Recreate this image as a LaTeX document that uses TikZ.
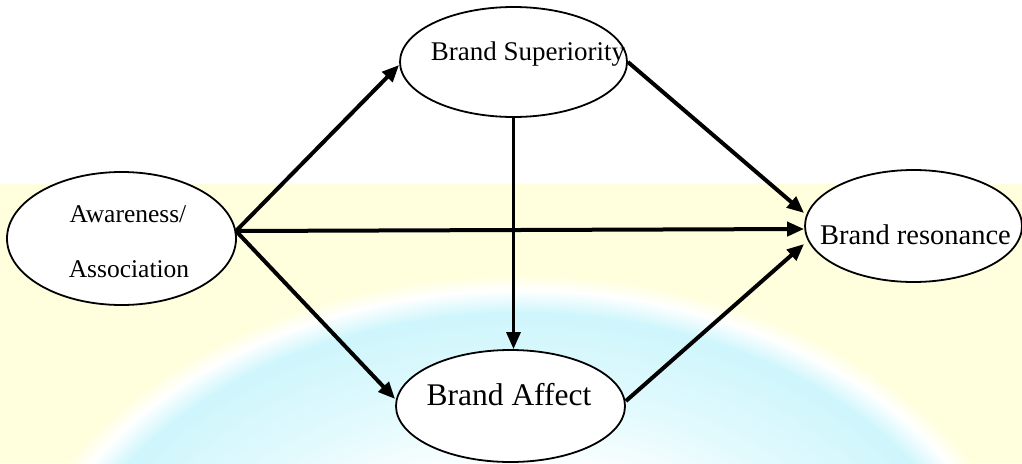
\documentclass[tikz,border=0pt]{standalone}
\usepackage{fontspec}
\setmainfont{Liberation Serif}
\usetikzlibrary{arrows.meta,shapes.geometric,calc}
\definecolor{bgyellow}{RGB}{255,255,222}
\definecolor{globecyan}{RGB}{206,246,252}
\definecolor{globelight}{RGB}{226,250,253}
\pgfdeclareradialshading{globeshade}{\pgfpoint{0bp}{0bp}}{%
  color(0bp)=(white); color(12bp)=(white); color(17bp)=(globelight);
  color(22.5bp)=(globecyan); color(24bp)=(white); color(25bp)=(bgyellow); color(50bp)=(bgyellow)}
\tikzset{
  oval/.style={draw=black, line width=1.8pt, fill=white, ellipse, inner sep=0pt},
  lbl/.style={anchor=base, inner sep=0pt},
  conn/.style={line width=4pt, -{Triangle[length=17pt,width=14pt]}},
}
\begin{document}
\begin{tikzpicture}[x=1pt,y=-1pt]
\useasboundingbox (0,0) rectangle (1022,463);
\begin{scope}
\clip (0,0) rectangle (1022,463);
\fill[white] (0,0) rectangle (1022,463);
\fill[bgyellow] (0,184) rectangle (1022,463);
\shade[shading=globeshade] (520,655) ellipse [x radius=525, y radius=380];
\end{scope}
% nodes
\node[oval, minimum width=229pt, minimum height=133pt] (aw) at (121.5,238.5) {};
\node[oval, minimum width=227pt, minimum height=110pt] (sup) at (513.5,62) {};
\node[oval, minimum width=229pt, minimum height=112pt] (aff) at (510.5,406) {};
\node[oval, minimum width=217pt, minimum height=112pt] (res) at (913.5,226) {};
% labels
\node[lbl, font=\fontsize{25.5}{28}\selectfont] (awt1) at (128,222) {Awareness/};
\node[lbl, font=\fontsize{25.5}{28}\selectfont] (awt2) at (129,277) {Association};
\node[lbl, font=\fontsize{27}{30}\selectfont] (supt) at (528,60) {Brand Superiority};
\node[lbl, font=\fontsize{31.5}{34}\selectfont] (afft) at (509,405) {Brand Affect};
\node[lbl, font=\fontsize{28.5}{32}\selectfont] (rest) at (915.5,244) {Brand resonance};
% connectors
\coordinate (awout) at (236,231);
\draw[conn] (awout) -- ([yshift=-3pt]sup.west);
\draw[conn] (awout) -- ([yshift=-3pt]res.west);
\draw[conn] (awout) -- ([yshift=7pt]aff.west);
\draw[conn] (sup.east) -- ([yshift=13pt]res.west);
\draw[conn] ([yshift=5pt]aff.east) -- ([yshift=-18pt]res.west);
\draw[conn, line width=3.2pt] (sup.south) -- (sup.south |- aff.north);
\end{tikzpicture}
\end{document}
